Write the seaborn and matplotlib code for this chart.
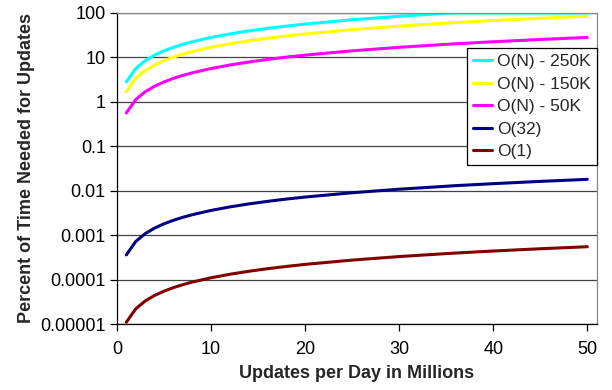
import pandas as pd
import matplotlib
matplotlib.use("Agg")
import matplotlib.pyplot as plt
import seaborn as sns

# updates per day (millions) sampled along the curves
updates = [1, 2, 3, 4, 5, 6, 7, 8, 10, 12, 14, 16, 18, 20, 25, 30, 35, 36, 40, 45, 50]

on_250k = [2.8, 5.6, 8.4, 11.2, 14, 16.8, 19.6, 22.4, 28, 33.6, 39.2, 44.8, 50.4, 56, 70, 84, 98, 100, 100, 100, 100]
on_150k = [1.68, 3.36, 5.04, 6.72, 8.4, 10.1, 11.8, 13.4, 16.8, 20.2, 23.5, 26.9, 30.2, 33.6, 42, 50.4, 58.8,
           60.5, 67.2, 75.6, 84]
on_50k = [0.56, 1.12, 1.68, 2.24, 2.8, 3.36, 3.92, 4.48, 5.6, 6.72, 7.84, 8.96, 10.1, 11.2, 14, 16.8, 19.6,
          20.2, 22.4, 25.2, 28]
o_32 = [0.00036, 0.00072, 0.00108, 0.00144, 0.0018, 0.00216, 0.00252, 0.00288, 0.0036, 0.00432, 0.00504,
        0.00576, 0.00648, 0.0072, 0.009, 0.0108, 0.0126, 0.013, 0.0144, 0.0162, 0.018]
o_1 = [0.000011, 0.000022, 0.000033, 0.000044, 0.000055, 0.000066, 0.000077, 0.000088, 0.00011, 0.000132,
       0.000154, 0.000176, 0.000198, 0.00022, 0.000275, 0.00033, 0.000385, 0.000396, 0.00044, 0.000495, 0.00055]

series_names = ["O(N) - 250K", "O(N) - 150K", "O(N) - 50K", "O(32)", "O(1)"]
series_colors = ["#00FFFF", "#FFFF00", "#FF00FF", "#000080", "#800000"]

y_ticks = [0.00001, 0.0001, 0.001, 0.01, 0.1, 1, 10, 100]
y_tick_labels = ["0.00001", "0.0001", "0.001", "0.01", "0.1", "1", "10", "100"]
x_ticks = [0, 10, 20, 30, 40, 50]

frames = []
for name, vals in zip(series_names, [on_250k, on_150k, on_50k, o_32, o_1]):
    frames.append(pd.DataFrame({"x": updates, "y": vals, "series": name}))
df = pd.concat(frames, ignore_index=True)

sns.set_style("white")
plt.rcParams["font.family"] = ["Liberation Sans", "DejaVu Sans"]

fig = plt.figure(figsize=(6.12, 3.9), dpi=100)
ax = fig.add_axes([0.191, 0.169, 0.784, 0.798])

ax.set_yscale("log")
for t in y_ticks:
    ax.axhline(t, color="#444444", lw=0.9, zorder=0)

sns.lineplot(data=df, x="x", y="y", hue="series", hue_order=series_names,
             palette=series_colors, linewidth=2.2, ax=ax, legend=True)

ax.set_ylim(0.00001, 100)
ax.set_xlim(0, 51)
ax.set_yticks(y_ticks)
ax.set_yticklabels(y_tick_labels)
ax.minorticks_off()
ax.set_xticks(x_ticks)
ax.tick_params(axis="both", direction="out", length=5, width=0.9, labelsize=13,
               colors="black", left=True, bottom=True, pad=3)
ax.tick_params(axis="x", pad=7)

for side in ["left", "bottom"]:
    ax.spines[side].set_color("black")
    ax.spines[side].set_linewidth(0.9)
for side in ["right", "top"]:
    ax.spines[side].set_color("#888888")
    ax.spines[side].set_linewidth(0.9)

ax.set_xlabel("Updates per Day in Millions", fontsize=13, fontweight="bold", labelpad=5)
ax.set_ylabel("Percent of Time Needed for Updates", fontsize=13, fontweight="bold", labelpad=4)

leg = ax.legend(loc="upper right", bbox_to_anchor=(1.0, 0.887), borderaxespad=0,
                fontsize=12.5, frameon=True, fancybox=False, handlelength=1.05,
                handletextpad=0.3, labelspacing=0.42, borderpad=0.35)
leg.get_frame().set_edgecolor("black")
leg.get_frame().set_linewidth(0.9)
leg.get_frame().set_alpha(1)

fig.savefig("out.png", dpi=100)
